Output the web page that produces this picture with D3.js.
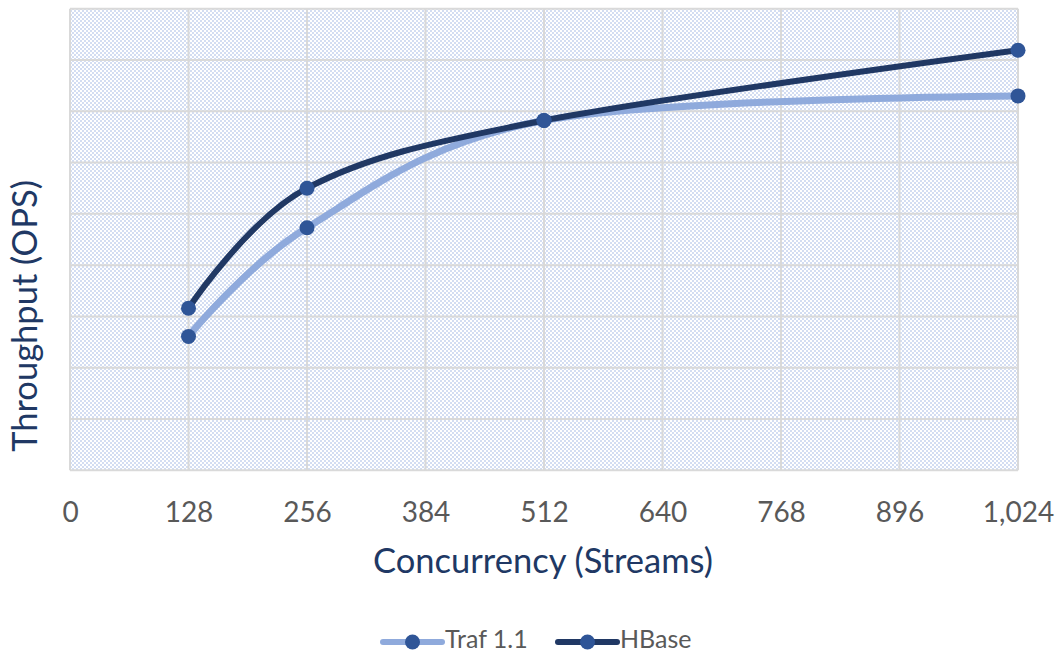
<!DOCTYPE html>
<html>
<head>
<meta charset="utf-8">
<script src="https://d3js.org/d3.v7.min.js"></script>
<style>
  body { margin: 0; background: #fff; }
  text { font-family: Lato, "Open Sans", sans-serif; }
</style>
</head>
<body>
<svg width="1057" height="654"></svg>
<script>
// data (y in grid units, axis has no labels)
const streams = [128, 256, 512, 1024];
const traf = [2.61, 4.73, 6.82, 7.30];
const hbase = [3.16, 5.50, 6.82, 8.19];
const xTicks = [0, 128, 256, 384, 512, 640, 768, 896, 1024];
const seriesNames = ["Traf 1.1", "HBase"];

const svg = d3.select("svg");
const plotL = 70, plotR = 1018, plotT = 8.7, plotB = 470.3;

const x = d3.scaleLinear().domain([0, 1024]).range([plotL, plotR]);
const y = d3.scaleLinear().domain([0, 9]).range([plotB, plotT]);

// checker fill like the excel pattern
const defs = svg.append("defs");
const pat = defs.append("pattern").attr("id", "chk")
  .attr("width", 4).attr("height", 4).attr("patternUnits", "userSpaceOnUse");
pat.append("rect").attr("width", 4).attr("height", 4).attr("fill", "#fff");
pat.append("rect").attr("x", 0).attr("y", 0).attr("width", 2).attr("height", 2).attr("fill", "#d3ddf2");
pat.append("rect").attr("x", 2).attr("y", 2).attr("width", 2).attr("height", 2).attr("fill", "#d3ddf2");

svg.append("rect").attr("x", plotL).attr("y", plotT)
  .attr("width", plotR - plotL).attr("height", plotB - plotT)
  .attr("fill", "url(#chk)");

// grid
const grid = svg.append("g").attr("stroke", "#d9d9d9").attr("stroke-width", 2);
grid.selectAll("line.h").data(d3.range(0, 10)).enter().append("line")
  .attr("x1", plotL).attr("x2", plotR)
  .attr("y1", d => y(d)).attr("y2", d => y(d));
grid.selectAll("line.v").data(xTicks).enter().append("line")
  .attr("x1", d => x(d)).attr("x2", d => x(d))
  .attr("y1", plotT).attr("y2", plotB);

// x axis labels
const xAxis = svg.append("g").attr("transform", "translate(0," + plotB + ")")
  .call(d3.axisBottom(x).tickValues(xTicks).tickSize(0).tickPadding(0)
    .tickFormat(d3.format(",")));
xAxis.select(".domain").remove();
xAxis.selectAll("text").attr("y", 52).attr("dy", 0)
  .attr("font-size", 28).attr("fill", "#595959")
  .style("font-family", "Lato, sans-serif");

// titles
svg.append("text").attr("x", 543).attr("y", 573)
  .attr("text-anchor", "middle").attr("font-size", 34.5).attr("fill", "#203864")
  .text("Concurrency (Streams)");
svg.append("text").attr("transform", "translate(37,316) rotate(-90)")
  .attr("text-anchor", "middle").attr("font-size", 34.5).attr("fill", "#203864")
  .text("Throughput (OPS)");

// lines
const line = d3.line()
  .x((d, i) => x(streams[i]))
  .y(d => y(d))
  .curve(d3.curveCatmullRom.alpha(0));

const colors = ["#8faadc", "#203864"];
const widths = [7, 6];
[traf, hbase].forEach((vals, k) => {
  svg.append("path").datum(vals)
    .attr("d", line).attr("fill", "none")
    .attr("stroke", colors[k]).attr("stroke-width", widths[k])
    .attr("stroke-linecap", "round");
});
[traf, hbase].forEach(vals => {
  svg.append("g").selectAll("circle").data(vals).enter().append("circle")
    .attr("cx", (d, i) => x(streams[i])).attr("cy", d => y(d))
    .attr("r", 7.5).attr("fill", "#2f5597");
});

// legend
const legX = [383, 558];
const leg = svg.append("g");
seriesNames.forEach((name, k) => {
  const g = leg.append("g").attr("transform", "translate(" + legX[k] + ",642)");
  g.append("line").attr("x1", 0).attr("x2", 59).attr("y1", 0).attr("y2", 0)
    .attr("stroke", colors[k]).attr("stroke-width", 6).attr("stroke-linecap", "round");
  g.append("circle").attr("cx", 29.5).attr("cy", 0).attr("r", 7.5).attr("fill", "#2f5597");
  g.append("text").attr("x", 62).attr("y", 6).attr("font-size", 25)
    .attr("fill", "#595959").text(name);
});
</script>
</body>
</html>
